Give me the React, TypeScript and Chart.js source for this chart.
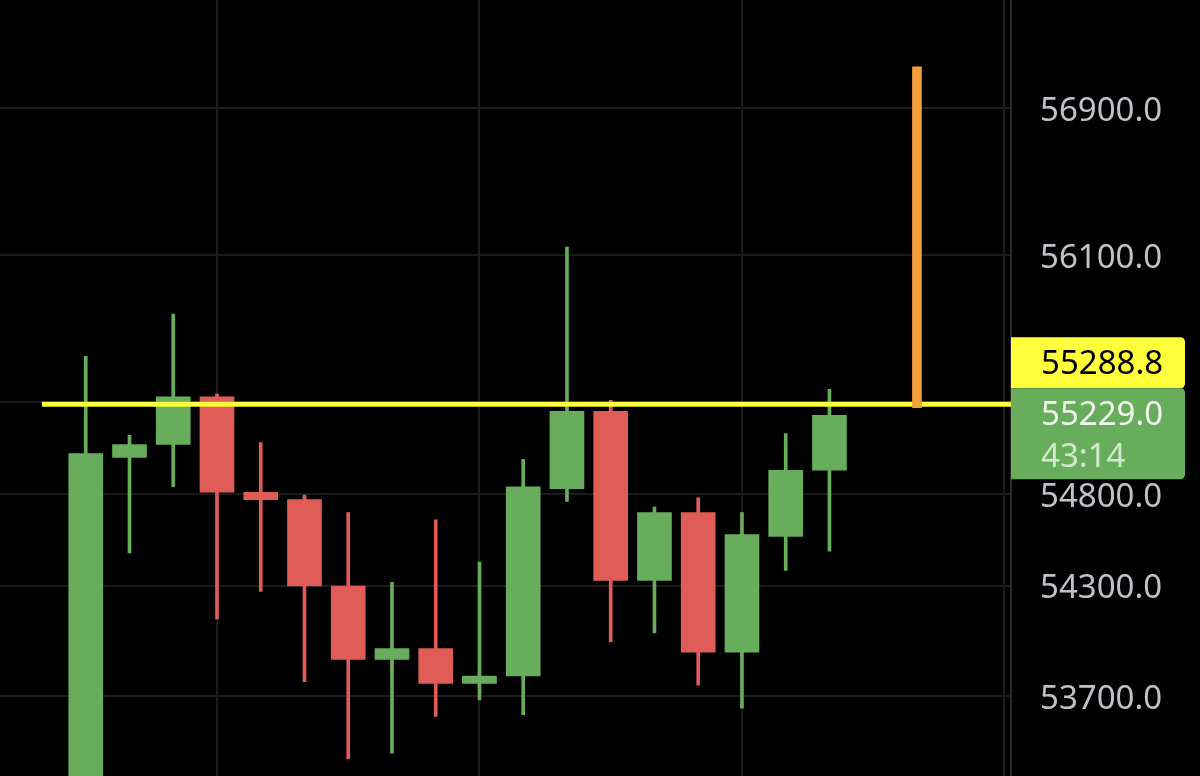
import React, { useEffect, useRef } from "react";
import { Chart, registerables } from "chart.js";

Chart.register(...registerables);

// ---- data ----
const INDEX = [0, 1, 2, 3, 4, 5, 6, 7, 8, 9, 10, 11, 12, 13, 14, 15, 16, 17];
const OPEN = [53100, 55000, 55070, 55330, 54810, 54770, 54300, 53900, 53960, 53770, 53810, 54830, 55250, 54330, 54700, 53940, 54570, 54930];
const HIGH = [55550, 55120, 55780, 55345, 55080, 54795, 54700, 54320, 54660, 54430, 54990, 56145, 55310, 54730, 54780, 54700, 55130, 55370];
const LOW = [53000, 54480, 54840, 54120, 54270, 53780, 53360, 53390, 53590, 53680, 53600, 54760, 53995, 54045, 53760, 53635, 54385, 54490];
const CLOSE = [55020, 55070, 55330, 54810, 54770, 54300, 53900, 53960, 53770, 53810, 54840, 55250, 54330, 54700, 53940, 54580, 54930, 55229];

const PRICE_TICKS = [53700, 54300, 54800, 55300, 56100, 56900];
const TIME_GRID = [3, 9, 15, 21];

const MARK_PRICE = 55288.8;
const LAST_PRICE = 55229.0;
const COUNTDOWN = "43:14";
const MARK_LINE_START = -1;

const SPIKE_INDEX = [19];
const SPIKE_LOW = [55270];
const SPIKE_HIGH = [57125];

const X_RANGE = [-1.96, 21.15];
const Y_RANGE = [53266, 57489];

// ---- style ----
const GREEN = "#67ad5b";
const RED = "#e05c57";
const YELLOW = "#ffff3b";
const ORANGE = "#f3a03a";
const GRID = "#1b1b1b";
const FONT = '"Noto Sans", "Open Sans", sans-serif';

const labelPlugin = {
  id: "priceLabels",
  afterDraw(chart: any) {
    const { ctx, chartArea, scales } = chart;
    const y = scales.y;
    const left = chartArea.right;
    const right = left + 174;
    const r = 5;
    const yLast = y.getPixelForValue(LAST_PRICE);
    const gTop = yLast - 27;
    const gBot = gTop + 91;
    const yTop = gTop - 51;

    const box = (top: number, bottom: number, color: string) => {
      ctx.save();
      ctx.fillStyle = color;
      ctx.beginPath();
      ctx.moveTo(left, top);
      ctx.lineTo(right - r, top);
      ctx.quadraticCurveTo(right, top, right, top + r);
      ctx.lineTo(right, bottom - r);
      ctx.quadraticCurveTo(right, bottom, right - r, bottom);
      ctx.lineTo(left, bottom);
      ctx.closePath();
      ctx.fill();
      ctx.restore();
    };
    box(yTop, gTop, YELLOW);
    box(gTop, gBot, GREEN);

    ctx.save();
    ctx.font = `33px ${FONT}`;
    ctx.textAlign = "left";
    ctx.textBaseline = "middle";
    const tx = left + 30;
    ctx.fillStyle = "#000000";
    ctx.fillText(MARK_PRICE.toFixed(1), tx, (yTop + gTop) / 2 + 2);
    ctx.fillStyle = "#f4f7f3";
    ctx.fillText(LAST_PRICE.toFixed(1), tx, yLast);
    ctx.fillStyle = "#d3e9cf";
    ctx.fillText(COUNTDOWN, tx, yLast + 42);
    ctx.restore();
  },
};

export default function App() {
  const ref = useRef<HTMLCanvasElement | null>(null);

  useEffect(() => {
    if (!ref.current) return;
    const colors = INDEX.map((i) => (CLOSE[i] >= OPEN[i] ? GREEN : RED));
    const chart = new Chart(ref.current, {
      type: "bar",
      data: {
        datasets: [
          {
            type: "line",
            data: [
              { x: MARK_LINE_START, y: MARK_PRICE },
              { x: X_RANGE[1], y: MARK_PRICE },
            ],
            borderColor: YELLOW,
            borderWidth: 5,
            pointRadius: 0,
            order: 1,
          } as any,
          {
            type: "bar",
            data: SPIKE_INDEX.map((x, k) => ({ x, y: [SPIKE_LOW[k], SPIKE_HIGH[k]] })),
            backgroundColor: ORANGE,
            barThickness: 9,
            grouped: false,
            order: 0,
          } as any,
          {
            type: "bar",
            data: INDEX.map((i) => ({ x: i, y: [LOW[i], HIGH[i]] })),
            backgroundColor: colors,
            barThickness: 3,
            grouped: false,
            order: 3,
          } as any,
          {
            type: "bar",
            data: INDEX.map((i) => ({ x: i, y: [OPEN[i], CLOSE[i]] })),
            backgroundColor: colors,
            barThickness: 34,
            grouped: false,
            order: 2,
          } as any,
        ],
      },
      options: {
        animation: false,
        responsive: true,
        maintainAspectRatio: false,
        layout: { padding: 0 },
        plugins: { legend: { display: false }, tooltip: { enabled: false } },
        scales: {
          x: {
            type: "linear",
            min: X_RANGE[0],
            max: X_RANGE[1],
            offset: false,
            position: "bottom",
            afterBuildTicks: (s: any) => {
              s.ticks = TIME_GRID.map((v) => ({ value: v }));
            },
            ticks: { display: false },
            grid: { color: GRID, lineWidth: 2, drawTicks: false, offset: false },
            border: { display: false },
          },
          y: {
            type: "linear",
            position: "right",
            min: Y_RANGE[0],
            max: Y_RANGE[1],
            afterBuildTicks: (s: any) => {
              s.ticks = PRICE_TICKS.map((v) => ({ value: v }));
            },
            afterFit: (s: any) => {
              s.width = 189;
              s.paddingTop = 0;
              s.paddingBottom = 0;
            },
            ticks: {
              color: "#bfc2c8",
              font: { family: FONT, size: 33 },
              padding: 29,
              labelOffset: 3,
              callback: (v: any) => Number(v).toFixed(1),
            },
            grid: { color: GRID, lineWidth: 2, drawTicks: false },
            border: { display: true, color: "#2a2a2a", width: 2 },
          },
        },
      },
      plugins: [labelPlugin],
    });
    return () => chart.destroy();
  }, []);

  return (
    <div
      style={{
        position: "fixed",
        left: 0,
        top: 0,
        width: 1200,
        height: 776,
        background: "#000000",
      }}
    >
      <canvas ref={ref} />
    </div>
  );
}
